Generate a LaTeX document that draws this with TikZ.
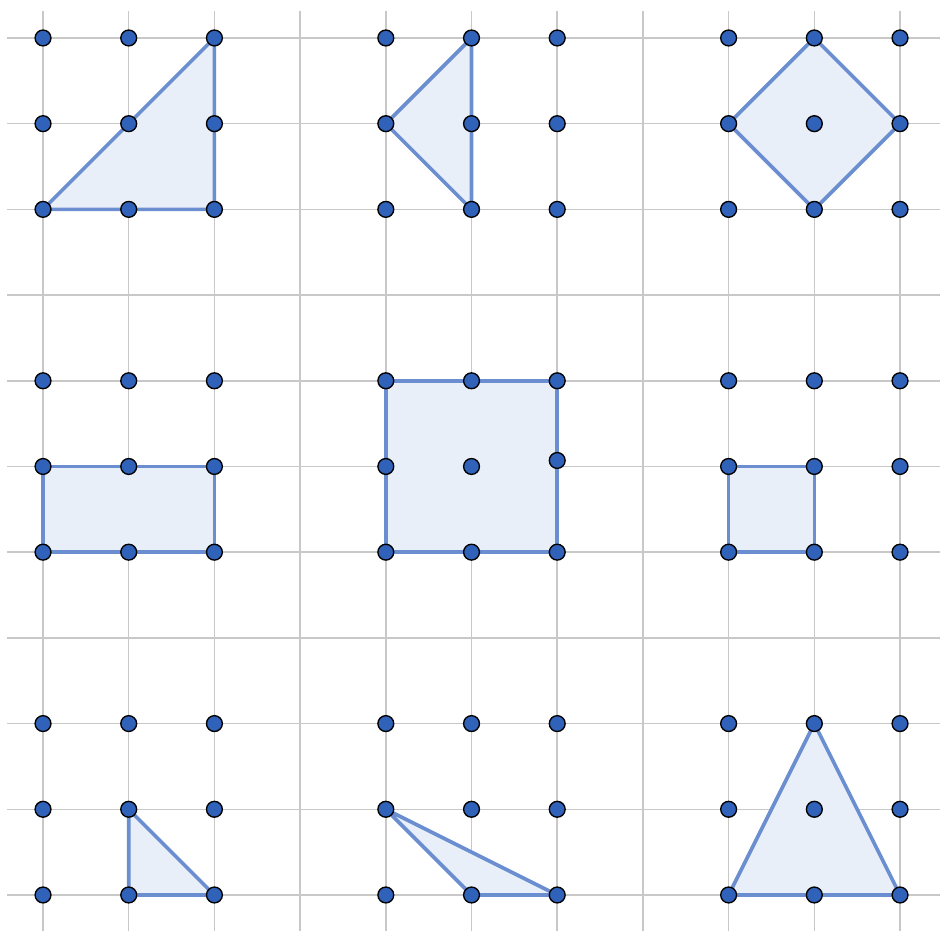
\documentclass[tikz,border=0pt]{standalone}
\definecolor{gridgray}{HTML}{C8C8C8}
\definecolor{polyline}{HTML}{6A8ED0}
\definecolor{polyfillc}{HTML}{E9EFF8}
\definecolor{dotblue}{HTML}{2F62B8}
\tikzset{
  gridline/.style={draw=gridgray, line width=0.5pt},
  polyfill/.style={draw=polyline, fill=polyfillc, line width=1.2pt, line join=round},
  dotnode/.style={circle, draw=black, fill=dotblue, line width=0.45pt, minimum size=0.185cm, inner sep=0pt}
}
\begin{document}
\begin{tikzpicture}[x=1cm,y=-1cm]
\useasboundingbox (-0.502,-0.443) rectangle (10.490,10.42);
% grid
\foreach \i in {0,...,10} {
  \draw[gridline] (\i,-0.32) -- (\i,10.45);
  \draw[gridline] (-0.42,\i) -- (10.47,\i);
}
% named lattice coordinates
\foreach \c in {0,...,10} {
  \foreach \r in {0,...,10} {
    \coordinate (g-\c-\r) at (\c,\r);
  }
}
\coordinate (g-6-5s) at (6,4.93);
% polygons
\draw[polyfill] (g-0-2) -- (g-2-0) -- (g-2-2) -- cycle;
\draw[polyfill] (g-5-0) -- (g-4-1) -- (g-5-2) -- cycle;
\draw[polyfill] (g-9-0) -- (g-10-1) -- (g-9-2) -- (g-8-1) -- cycle;
\draw[polyfill] (g-0-5) -- (g-2-5) -- (g-2-6) -- (g-0-6) -- cycle;
\draw[polyfill] (g-4-4) -- (g-6-4) -- (g-6-6) -- (g-4-6) -- cycle;
\draw[polyfill] (g-8-5) -- (g-9-5) -- (g-9-6) -- (g-8-6) -- cycle;
\draw[polyfill] (g-1-9) -- (g-1-10) -- (g-2-10) -- cycle;
\draw[polyfill] (g-4-9) -- (g-5-10) -- (g-6-10) -- cycle;
\draw[polyfill] (g-8-10) -- (g-9-8) -- (g-10-10) -- cycle;
% dots
\foreach \pc in {0,4,8} {
  \foreach \pr in {0,4,8} {
    \foreach \dc in {0,1,2} {
      \foreach \dr in {0,1,2} {
        \pgfmathtruncatemacro{\cc}{\pc+\dc}
        \pgfmathtruncatemacro{\rr}{\pr+\dr}
        \ifnum\cc=6 \ifnum\rr=5
          \node[dotnode] (d-\cc-\rr) at (g-6-5s) {};
        \else
          \node[dotnode] (d-\cc-\rr) at (g-\cc-\rr) {};
        \fi
        \else
          \node[dotnode] (d-\cc-\rr) at (g-\cc-\rr) {};
        \fi
      }
    }
  }
}
\end{tikzpicture}
\end{document}
